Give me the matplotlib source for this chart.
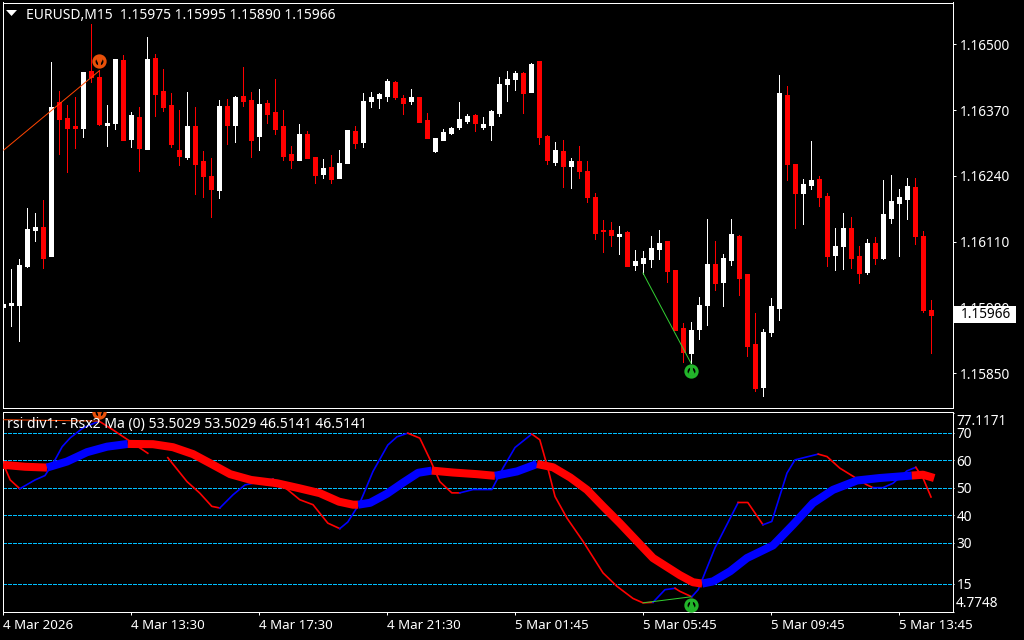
import matplotlib
matplotlib.use('Agg')
import numpy as np
import matplotlib.pyplot as plt
from matplotlib.patches import Rectangle

# EURUSD M15 candles, left to right
opens = [
    1.15981, 1.15985, 1.15985, 1.16062, 1.16133, 1.16139, 1.16082, 1.16386, 1.16354, 1.16338,
    1.16334, 1.16447, 1.16435, 1.16340, 1.16344, 1.16469, 1.16313, 1.16356, 1.16293, 1.16473,
    1.16407, 1.16380, 1.16291, 1.16277, 1.16338, 1.16269, 1.16240, 1.16212, 1.16378, 1.16340,
    1.16398, 1.16390, 1.16319, 1.16384, 1.16366, 1.16338, 1.16283, 1.16271, 1.16323, 1.16277,
    1.16244, 1.16257, 1.16236, 1.16265, 1.16329, 1.16307, 1.16388, 1.16394, 1.16398, 1.16425,
    1.16394, 1.16388, 1.16396, 1.16350, 1.16289, 1.16311, 1.16325, 1.16336, 1.16348, 1.16360,
    1.16336, 1.16340, 1.16364, 1.16421, 1.16431, 1.16443, 1.16405, 1.16467, 1.16319, 1.16267,
    1.16289, 1.16259, 1.16269, 1.16250, 1.16198, 1.16133, 1.16133, 1.16121, 1.16129, 1.16064,
    1.16068, 1.16076, 1.16095, 1.16111, 1.16054, 1.15939, 1.15890, 1.15938, 1.15985, 1.16066,
    1.16030, 1.16074, 1.16121, 1.16046, 1.15908, 1.15823, 1.15931, 1.15979, 1.16400, 1.16263,
    1.16206, 1.16222, 1.16234, 1.16200, 1.16084, 1.16101, 1.16137, 1.16082, 1.16050, 1.16107,
    1.16078, 1.16157, 1.16186, 1.16194, 1.16218, 1.16121, 1.15975,
]
highs = [
    1.16054, 1.16056, 1.16076, 1.16177, 1.16167, 1.16192, 1.16465, 1.16407, 1.16380, 1.16396,
    1.16445, 1.16540, 1.16449, 1.16380, 1.16471, 1.16479, 1.16366, 1.16376, 1.16514, 1.16481,
    1.16451, 1.16404, 1.16370, 1.16405, 1.16376, 1.16289, 1.16275, 1.16390, 1.16392, 1.16398,
    1.16455, 1.16405, 1.16411, 1.16390, 1.16431, 1.16370, 1.16299, 1.16342, 1.16329, 1.16277,
    1.16273, 1.16281, 1.16291, 1.16331, 1.16338, 1.16404, 1.16405, 1.16404, 1.16431, 1.16427,
    1.16400, 1.16411, 1.16396, 1.16364, 1.16315, 1.16332, 1.16336, 1.16386, 1.16362, 1.16362,
    1.16356, 1.16370, 1.16435, 1.16447, 1.16447, 1.16445, 1.16463, 1.16467, 1.16321, 1.16307,
    1.16311, 1.16275, 1.16299, 1.16269, 1.16206, 1.16153, 1.16149, 1.16141, 1.16131, 1.16094,
    1.16092, 1.16121, 1.16133, 1.16111, 1.16054, 1.15949, 1.15951, 1.16001, 1.16155, 1.16111,
    1.16086, 1.16155, 1.16123, 1.16046, 1.15969, 1.15937, 1.15999, 1.16439, 1.16417, 1.16263,
    1.16234, 1.16309, 1.16240, 1.16206, 1.16137, 1.16167, 1.16159, 1.16101, 1.16115, 1.16119,
    1.16232, 1.16242, 1.16214, 1.16236, 1.16236, 1.16131, 1.15995,
]
lows = [
    1.15953, 1.15943, 1.15914, 1.16060, 1.16111, 1.16058, 1.16082, 1.16283, 1.16248, 1.16295,
    1.16317, 1.16425, 1.16340, 1.16299, 1.16332, 1.16311, 1.16297, 1.16250, 1.16293, 1.16358,
    1.16368, 1.16297, 1.16261, 1.16273, 1.16204, 1.16198, 1.16159, 1.16196, 1.16303, 1.16307,
    1.16378, 1.16277, 1.16291, 1.16344, 1.16323, 1.16271, 1.16255, 1.16271, 1.16275, 1.16226,
    1.16236, 1.16226, 1.16236, 1.16265, 1.16295, 1.16297, 1.16376, 1.16374, 1.16388, 1.16392,
    1.16362, 1.16382, 1.16346, 1.16315, 1.16287, 1.16311, 1.16323, 1.16332, 1.16344, 1.16329,
    1.16332, 1.16311, 1.16358, 1.16388, 1.16409, 1.16364, 1.16405, 1.16303, 1.16263, 1.16261,
    1.16218, 1.16216, 1.16236, 1.16188, 1.16115, 1.16090, 1.16101, 1.16086, 1.16062, 1.16054,
    1.16046, 1.16060, 1.16076, 1.16030, 1.15936, 1.15872, 1.15870, 1.15918, 1.15945, 1.16015,
    1.15983, 1.16064, 1.16005, 1.15884, 1.15815, 1.15805, 1.15923, 1.15955, 1.16232, 1.16137,
    1.16145, 1.16214, 1.16180, 1.16062, 1.16054, 1.16056, 1.16058, 1.16028, 1.16046, 1.16066,
    1.16076, 1.16147, 1.16082, 1.16155, 1.16105, 1.15971, 1.15890,
]
closes = [
    1.15987, 1.15989, 1.16064, 1.16135, 1.16139, 1.16078, 1.16376, 1.16352, 1.16334, 1.16334,
    1.16445, 1.16435, 1.16342, 1.16344, 1.16471, 1.16311, 1.16360, 1.16295, 1.16471, 1.16402,
    1.16376, 1.16303, 1.16279, 1.16338, 1.16263, 1.16240, 1.16214, 1.16378, 1.16340, 1.16396,
    1.16388, 1.16311, 1.16382, 1.16362, 1.16332, 1.16279, 1.16271, 1.16323, 1.16275, 1.16242,
    1.16255, 1.16234, 1.16265, 1.16331, 1.16305, 1.16388, 1.16396, 1.16402, 1.16427, 1.16396,
    1.16384, 1.16396, 1.16346, 1.16315, 1.16315, 1.16327, 1.16334, 1.16352, 1.16358, 1.16344,
    1.16342, 1.16368, 1.16421, 1.16431, 1.16443, 1.16404, 1.16461, 1.16317, 1.16271, 1.16291,
    1.16259, 1.16269, 1.16250, 1.16198, 1.16127, 1.16131, 1.16123, 1.16125, 1.16062, 1.16072,
    1.16078, 1.16097, 1.16107, 1.16052, 1.15936, 1.15892, 1.15936, 1.15985, 1.16066, 1.16028,
    1.16078, 1.16125, 1.16038, 1.15904, 1.15821, 1.15931, 1.15983, 1.16404, 1.16263, 1.16206,
    1.16224, 1.16232, 1.16198, 1.16082, 1.16101, 1.16137, 1.16078, 1.16048, 1.16107, 1.16078,
    1.16165, 1.16190, 1.16198, 1.16220, 1.16121, 1.15975, 1.15966,
]

# thick moving average; each colour runs up to the next point
ma_bars = [0, 2.75, 5.5, 8, 10.5, 13, 15.6, 18.75, 21.25, 23.75, 26.25, 28.4, 31, 34.25, 37, 39.6,
           42, 43.75, 44.4, 45.9, 48, 50, 51.9, 53.6, 56.25, 59.25, 61.5, 64.25, 66.75, 68.75,
           70.9, 73, 75, 77.1, 79.25, 81.25, 84.6, 86.25, 87.4, 88.75, 90.9, 93, 96.25, 98.75,
           101.25, 103.75, 106.75, 109.6, 113.6, 115, 116.4]
ma_vals = [58.3, 57.6, 57.3, 59.5, 62.9, 64.9, 65.9, 65.8, 64.7, 62.2, 58.3, 54.9, 52.8, 51.6, 49.8, 48,
           44.9, 43.8, 43.8, 44.5, 47.8, 51.8, 55.4, 56.2, 55.5, 54.9, 54.3, 55.9, 58.6, 57.4,
           53.7, 49.2, 43.2, 37.1, 30.5, 24.4, 18.2, 15.6, 15.1, 15.9, 19.6, 24.4, 29, 36.5,
           44.4, 49.2, 52.6, 53.5, 54.4, 54.7, 53.5]
ma_cols = list('rr' + 'b' * 4 + 'r' * 12 + 'b' * 5 + 'r' * 3 + 'b' * 2 + 'r' * 10 + 'b' * 10 + 'rrr')

# thin rsx line, nan where the line is broken
rsx_bars = [0.25, 0.9, 2.1, 4, 5.25, 6.5, 7.4, 8.4, 10, 12, 13.75, 15.6, 18.1, 19, 20.6, 23, 24.6, 26.1, 27.1,
            28.75, 30.25, 31.75, 33.75, 35.6, 37.1, 38.75, 40.6, 42.1, 43.1, 44.6, 46.25, 48.1, 49.25,
            50.6, 52.1, 53.4, 54.6, 56.1, 57.1, 58.75, 61.1, 62.5, 64, 66.1, 67.1, 68.1, 69, 70.5,
            72.5, 75, 76.75, 78.75, 80, 81.25, 82.75, 84, 84.6, 86.1, 86.9, 89, 91.9, 93.1, 95, 96.1,
            98, 99, 101.9, 103, 104.6, 108, 108.75, 110, 111.25, 113, 114.1, 115, 116]
rsx_vals = [57.2, 52.8, 49.6, 52.8, 54.4, 60.1, 64.9, 68.1, 71.7, 74.2, 71, 67.4, 62.5, np.nan, 60.9, 52.2, 48, 43.2, 42.6,
            47.4, 51, 51.9, 53.1, 49.2, 45.6, 43.8, 37.1, 35.1, 37.5, 44.4, 55.9, 65.5, 68.5,
            69.8, 68, 60.1, 52.2, 48.1, 48.1, 49.3, 49.3, 57.1, 64.6, 69.5, 67.4, 57.1, 46.8, 38.9,
            30.5, 19, 14.1, 9.7, 8.1, 8.3, 12.9, 13.4, 12.3, 10.3, 12.9, 28.1, 44.6, 44.6, 36.5, 37.7,
            55.3, 60.1, 62.2, 61.3, 57.1, 51, 50, 50, 51.6, 56.1, 57.4, 53.5, 46.6]
rsx_cols = list('r' * 2 + 'b' * 7 + 'r' * 9 + 'b' * 4 + 'r' * 5 + 'b' * 6 + 'r' * 5 + 'b' * 5 + 'r' * 10
                + 'b' * 2 + 'r' * 2 + 'b' * 3 + 'r' * 2 + 'b' * 4 + 'r' * 4 + 'b' * 4 + 'r' * 3)

levels = [70, 60, 50, 40, 30, 15]
ind_ticks = [77.1171, 70, 60, 50, 40, 30, 15, 4.7748]
ind_labels = ['', '70', '60', '50', '40', '30', '15', '']
price_ticks = [1.16500, 1.16370, 1.16240, 1.16110, 1.15980, 1.15850]
time_bars = [0, 16, 32, 48, 64, 80, 96, 112]
time_labels = ['4 Mar 2026', '4 Mar 13:30', '4 Mar 17:30', '4 Mar 21:30',
               '5 Mar 01:45', '5 Mar 05:45', '5 Mar 09:45', '5 Mar 13:45']

# divergence lines and signal arrows
sell_line_bars = [0.1, 12]
sell_line_prices = [1.16291, 1.16447]
buy_line_bars = [80, 86]
buy_line_prices = [1.16048, 1.15870]
ind_sell_bars = [0.1, 12]
ind_sell_vals = [74.7, 74.2]
ind_buy_bars = [80, 86]
ind_buy_vals = [8.1, 10.3]

FONT = 'Noto Sans'
W, H = 1024, 640
XLIM = (-0.0625, 118.6875)
RED, BLUE = '#ff0000', '#0000ff'

plt.rcParams['font.family'] = FONT
fig = plt.figure(figsize=(W / 100, H / 100), dpi=100, facecolor='black')


def panel(top, bottom):
    ax = fig.add_axes([2.5 / W, 1 - bottom / H, 950 / W, (bottom - top) / H], facecolor='black')
    ax.set_xlim(*XLIM)
    for s in ax.spines.values():
        s.set_color('white')
        s.set_linewidth(0.72)
    return ax


def signal(ax, bar, y, color, down):
    # ring with an arrow in the middle, like the MT4 wingdings arrow
    ax.plot([bar], [y], 'o', ms=8, mfc='black', mec=color, mew=2.3, zorder=6)
    ax.plot([bar], [y], '|', ms=7, mec=color, mew=2, zorder=7)
    ax.plot([bar], [y], 'v' if down else '^', ms=4, mfc=color, mec=color, zorder=7)


def colored_runs(ax, xs, ys, cols, **kw):
    # one line per colour run so the joins stay clean
    start = 0
    for i in range(1, len(xs)):
        if i == len(xs) - 1 or cols[i] != cols[start]:
            ax.plot(xs[start:i + 1], ys[start:i + 1], color=RED if cols[start] == 'r' else BLUE, **kw)
            start = i


ax1 = panel(2.5, 408)
ax1.set_ylim(1.1658725 - 1.975e-5 * 408, 1.1658725 - 1.975e-5 * 2.5)

bars = np.arange(len(opens))
colors = ['white' if c >= o else RED for o, c in zip(opens, closes)]
ax1.vlines(bars, lows, highs, colors=colors, linewidth=0.72, antialiased=False, zorder=2)
body_low = np.minimum(opens, closes)
body_h = np.abs(np.array(closes) - np.array(opens))
ax1.bar(bars, body_h, bottom=body_low, width=0.5, color=colors, linewidth=0.72,
        edgecolor=colors, antialiased=False, zorder=3)

ax1.plot(sell_line_bars, sell_line_prices, color='#ff4500', lw=0.72, zorder=4)
ax1.plot(buy_line_bars, buy_line_prices, color='#32cd32', lw=0.72, zorder=4)
signal(ax1, 12, 1.16467, '#e8500a', True)
signal(ax1, 86, 1.15855, '#22b52a', False)

ax1.yaxis.tick_right()
ax1.set_yticks(price_ticks)
ax1.set_yticklabels(['%.5f' % p for p in price_ticks])
ax1.set_xticks([])
ax1.tick_params(axis='y', colors='white', length=2, width=0.72, pad=3.6, labelsize=9.8)

ax1.text(0.0245, 0.9675, 'EURUSD,M15  1.15975 1.15995 1.15890 1.15966', transform=ax1.transAxes,
         color='white', fontsize=10, va='center', ha='left', zorder=10)
ax1.fill([0.0037, 0.01526, 0.0095], [0.9815, 0.9815, 0.9667], color='white', lw=0,
         transform=ax1.transAxes, zorder=10)
ax1.add_patch(Rectangle((1.00158, closes[-1] - 0.000168), 0.0653, 0.000336, facecolor='white', lw=0,
                        transform=ax1.get_yaxis_transform(), clip_on=False, zorder=11))
ax1.text(1.0085, closes[-1], '%.5f' % closes[-1], transform=ax1.get_yaxis_transform(), color='black',
         fontsize=9.8, va='center', ha='left', clip_on=False, zorder=12)

ax2 = panel(411.5, 612)
ax2.set_ylim(70 - (612 - 432.7) / 2.756, 70 + (432.7 - 411.5) / 2.756)
for lev in levels:
    ax2.axhline(lev, color='#00bfff', lw=0.72, linestyle=(0, (4, 2)), antialiased=False, zorder=1)

colored_runs(ax2, rsx_bars, rsx_vals, rsx_cols, lw=1.2, zorder=3)
colored_runs(ax2, ma_bars, ma_vals, ma_cols, lw=5.8, zorder=4, solid_capstyle='butt', solid_joinstyle='round')

ax2.plot(ind_sell_bars, ind_sell_vals, color='#ff4500', lw=0.72, zorder=5)
ax2.plot(ind_buy_bars, ind_buy_vals, color='#32cd32', lw=0.72, zorder=5)
signal(ax2, 12, 77.6, '#e8500a', True)
signal(ax2, 86, 7.5, '#22b52a', False)

ax2.yaxis.tick_right()
ax2.set_yticks(ind_ticks)
ax2.set_yticklabels(ind_labels)
ax2.tick_params(axis='y', colors='white', length=0.8, width=0.72, pad=2.2, labelsize=9.8)
ax2.text(1.0037, 0.949, '77.1171', transform=ax2.transAxes, color='white', fontsize=9.8,
         va='center', ha='left', clip_on=False)
ax2.text(1.0037, 0.04, '4.7748', transform=ax2.transAxes, color='white', fontsize=9.8,
         va='center', ha='left', clip_on=False)
ax2.set_xticks(time_bars)
ax2.set_xticklabels(time_labels, ha='left')
ax2.tick_params(axis='x', colors='white', length=2.2, width=0.72, pad=3, labelsize=9.6)
ax2.text(0.0045, 0.935, 'rsi div1: - Rsx2 Ma (0) 53.5029 53.5029 46.5141 46.5141', transform=ax2.transAxes,
         color='white', fontsize=10.1, va='center', ha='left', zorder=10)

fig.savefig('out.png', dpi=100, facecolor='black')
